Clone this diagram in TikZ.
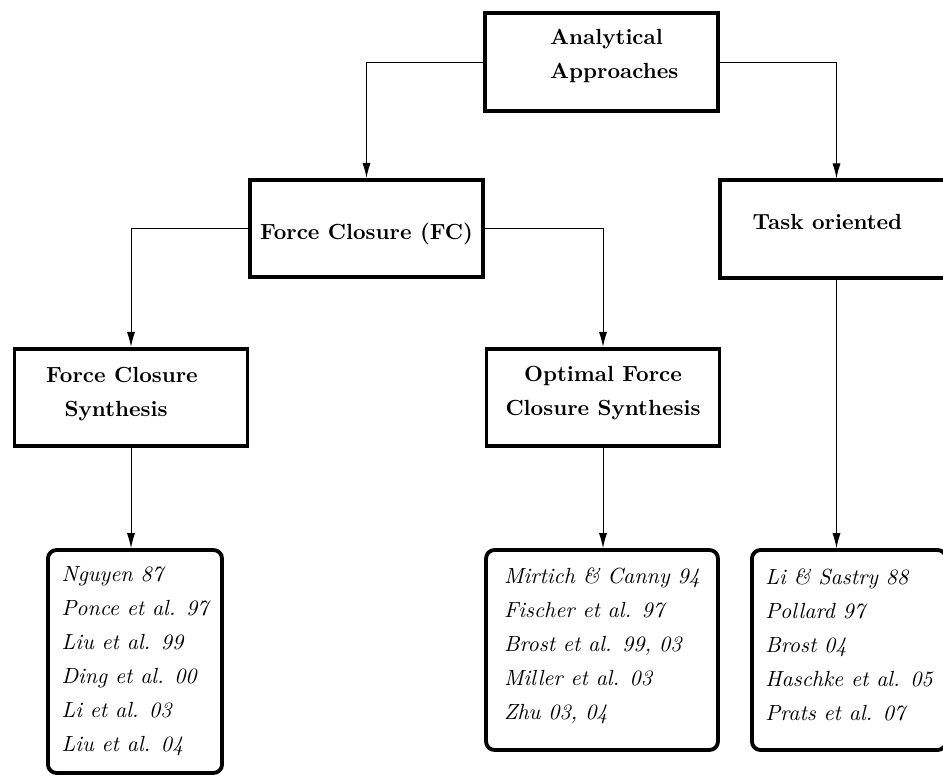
\documentclass[tikz,border=0pt]{standalone}
\usepackage{tikz}
\usetikzlibrary{arrows.meta}

\begin{document}
\begin{tikzpicture}[x=0.47pt, y=-0.47pt,
    head/.style={draw, line width=1.8pt, minimum width=109.5pt, minimum height=45.8pt,
      align=center, font=\fontsize{10.3}{16}\selectfont\bfseries},
    refs/.style={draw, line width=1.8pt, rounded corners=4pt, align=left,
      font=\fontsize{10.3}{16}\selectfont\itshape},
    link/.style={line width=0.45pt, -{Latex[length=7pt,width=3.8pt]}}]
      \useasboundingbox (0,0) rectangle (943,780);
      \clip (0,0) rectangle (943,780);
      % headings, text depth/height nudge the text inside the boxes
      \node[head, align=left, text depth=7.5pt] (aa) at (601.5,62)
        {\hspace*{12pt}Analytical\\\hspace*{12pt}Approaches};
      \node[head, text height=13pt] (fc) at (366.5,228.5) {Force Closure (FC)};
      \node[head, text depth=6.6pt] (to) at (836.5,229) {Task oriented\hspace*{8.5pt}};
      \node[head, text depth=5.7pt] (fcs) at (131,397.5)
        {Force Closure\hspace*{8.5pt}\\Synthesis\hspace*{14pt}};
      \node[head, text depth=6.1pt] (ofcs) at (603,397.5) {Optimal Force\\Closure Synthesis};
      % references
      \node[refs, minimum width=81.8pt, minimum height=104.8pt] (l1) at (135,661.5)
        {Nguyen 87\\Ponce et al. 97\\Liu et al. 99\\Ding et al. 00\\Li et al. 03\\Liu et al. 04};
      \node[refs, minimum width=109pt, minimum height=94pt, text depth=5.7pt] (l2) at (602,650)
        {Mirtich \& Canny 94\\Fischer et al. 97\\Brost et al. 99, 03\\Miller et al. 03\\Zhu 03, 04};
      \node[refs, minimum width=91.2pt, minimum height=94pt, text depth=4.7pt] (l3) at (849,650)
        {Li \& Sastry 88\\Pollard 97\\Brost 04\\Haschke et al. 05\\Prats et al. 07};
      \draw[link] (aa.west) -| (fc.north);
      \draw[link] (aa.east) -| (to.north);
      \draw[link] (fc.west) -| (fcs.north);
      \draw[link] (fc.east) -| (ofcs.north);
      \draw[link] (fcs.south) -- (fcs.south |- l1.north);
      \draw[link] (ofcs.south) -- (ofcs.south |- l2.north);
      \draw[link] (to.south) -- (to.south |- l3.north);
\end{tikzpicture}
\end{document}
